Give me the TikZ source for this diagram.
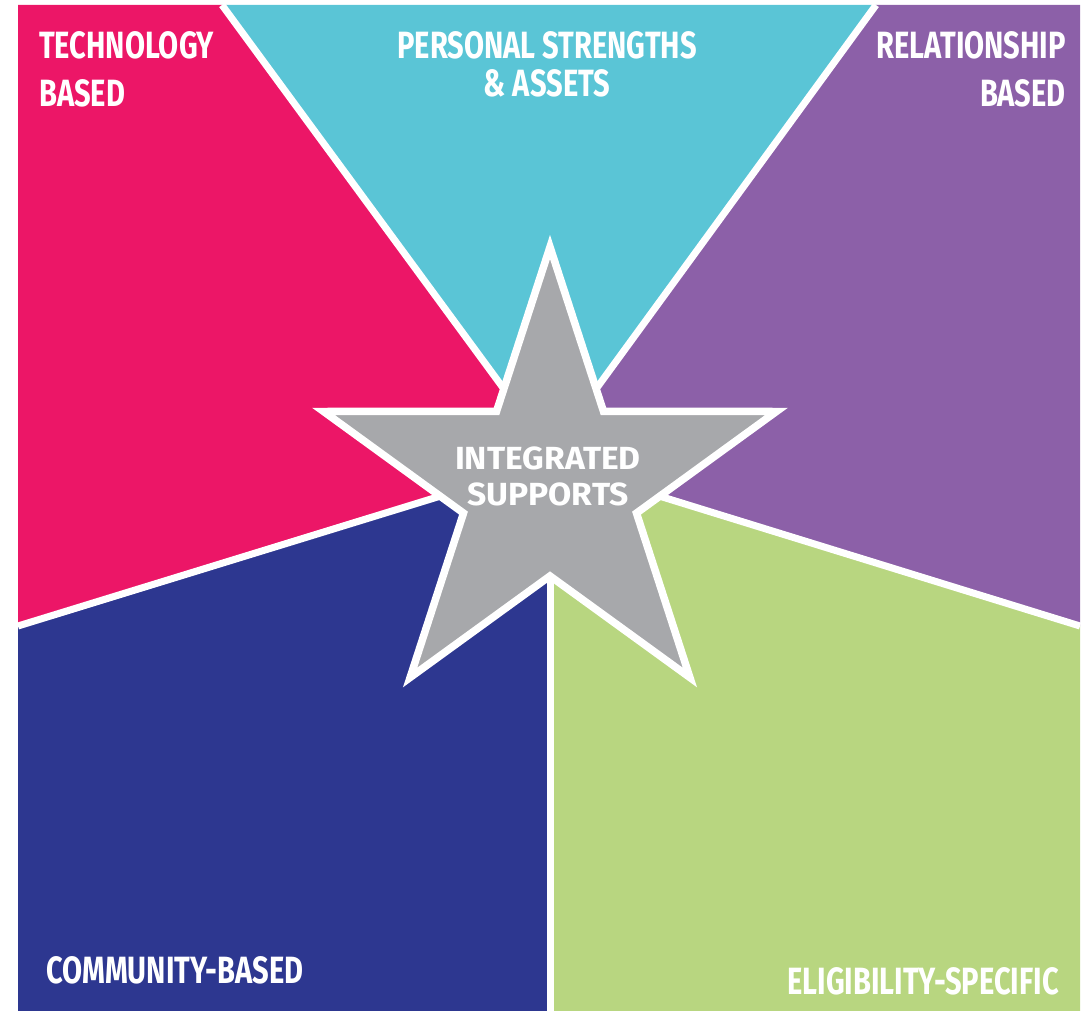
\documentclass[tikz,border=0pt]{standalone}
\usepackage{fontspec}
\newfontfamily\condfont[FakeStretch=0.765]{Fira Sans}
\newfontfamily\wideFont[FakeStretch=1.05]{Fira Sans}
\definecolor{cPink}{HTML}{EC1667}
\definecolor{cCyan}{HTML}{5AC5D6}
\definecolor{cPurple}{HTML}{8C60A8}
\definecolor{cNavy}{HTML}{2D3790}
\definecolor{cGreen}{HTML}{B8D680}
\definecolor{cGray}{HTML}{A7A8AB}
\tikzset{
  divider/.style={draw=white, line width=7pt, line join=miter},
  starshape/.style={fill=cGray, draw=white, line width=7.5pt, line join=miter},
  biglabel/.style={text=white, inner sep=0pt, font=\condfont\bfseries\fontsize{38}{48}\selectfont},
  centerlabel/.style={text=white, inner sep=0pt, align=center, font=\wideFont\bfseries\fontsize{32}{36}\selectfont}
}
\begin{document}
\begin{tikzpicture}[x=1pt,y=-1pt]
\useasboundingbox (0,0) rectangle (1092,1011);
% key points
\coordinate (C) at (550,485);
\coordinate (TL) at (18,5);
\coordinate (TR) at (1080,5);
\coordinate (BL) at (18,1011);
\coordinate (BR) at (1080,1011);
\coordinate (E1) at (222,5);
\coordinate (E2) at (876,5);
\coordinate (E3) at (18,626);
\coordinate (E4) at (1080,626);
\coordinate (E5) at (550,1011);
\coordinate (P1) at (512,400);
\coordinate (P2) at (588,400);
\coordinate (P3) at (470,487);
\coordinate (P4) at (630,487);
\coordinate (P5) at (550,560);
% sectors
\fill[cPink]   (TL) -- (E1) -- (P1) -- (C) -- (P3) -- (E3) -- cycle;
\fill[cCyan]   (E1) -- (E2) -- (P2) -- (C) -- (P1) -- cycle;
\fill[cPurple] (E2) -- (TR) -- (E4) -- (P4) -- (C) -- (P2) -- cycle;
\fill[cGreen]  (E4) -- (BR) -- (E5) -- (P5) -- (C) -- (P4) -- cycle;
\fill[cNavy]   (E3) -- (P3) -- (C) -- (P5) -- (E5) -- (BL) -- cycle;
% dividers
\draw[divider] (E1) -- (P1) -- (C);
\draw[divider] (E2) -- (P2) -- (C);
\draw[divider] (E3) -- (P3) -- (C);
\draw[divider] (E4) -- (P4) -- (C);
\draw[divider] (E5) -- (P5) -- (C);
% star
\draw[starshape] (550,247) -- (603.5,411.4) -- (776.4,411.5) -- (636.5,513.1)
  -- (689.9,677.5) -- (550,576) -- (410.1,677.5) -- (463.5,513.1)
  -- (323.6,411.5) -- (496.5,411.4) -- cycle;
% labels
\node[biglabel, anchor=north west, align=left] (tech) at (39,31) {TECHNOLOGY\\BASED};
\node[biglabel, anchor=north, align=center, font=\condfont\bfseries\fontsize{38}{38}\selectfont] (pers) at (547,31) {PERSONAL STRENGTHS\\\& ASSETS};
\node[biglabel, anchor=north east, align=right] (rel) at (1066,31) {RELATIONSHIP\\BASED};
\node[centerlabel, anchor=north] (integ) at (548,447) {INTEGRATED\\SUPPORTS};
\node[biglabel, anchor=north west] (comm) at (46,956) {COMMUNITY-BASED};
\node[biglabel, anchor=north east] (elig) at (1059,967) {ELIGIBILITY-SPECIFIC};
\end{tikzpicture}
\end{document}
